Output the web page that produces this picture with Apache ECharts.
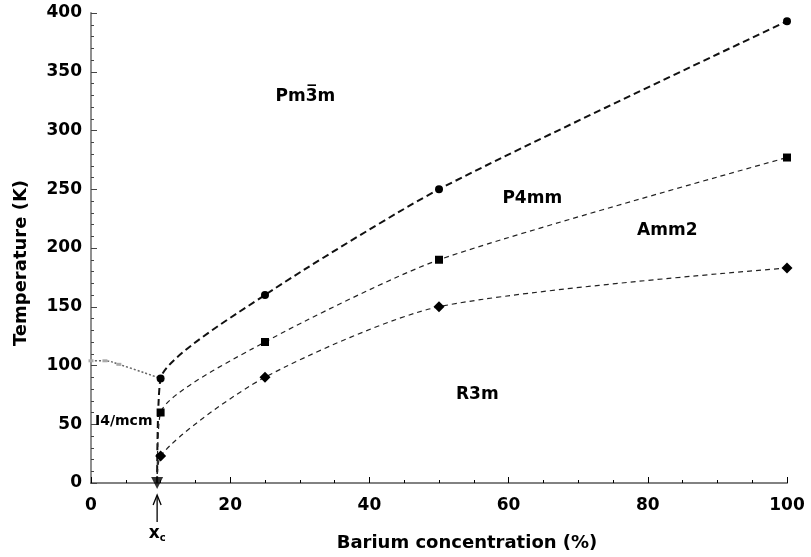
<!DOCTYPE html>
<html><head><meta charset="utf-8">
<script src="https://cdn.jsdelivr.net/npm/echarts@6/dist/echarts.min.js"></script>
<style>html,body{margin:0;padding:0;background:#fff}#c{width:811px;height:557px}</style>
</head><body><div id="c"></div>
<script>
// ---- data ----
const concentration = [10, 25, 50, 100];          // Barium concentration (%)
const cubicToTetragonal = [89, 160, 250, 393];     // Pm-3m -> P4mm (K), circles
const tetragonalToOrtho = [60, 120, 190, 277];     // P4mm -> Amm2 (K), squares
const orthoToRhombo = [23, 90, 150, 183];          // Amm2 -> R3m (K), diamonds
const xcConcentration = 9.5;                       // critical concentration x_c
const lowConcentration = [0, 2, 4];                // SrTiO3-side points
const lowTemperature = [104, 104, 101];            // I4/mcm transition (K)
const xTickValues = [0, 20, 40, 60, 80, 100];
const yTickValues = [0, 50, 100, 150, 200, 250, 300, 350, 400];
const phaseLabels = ['Pm3\u0305m', 'P4mm', 'Amm2', 'R3m', 'I4/mcm'];

const FONT = 'DejaVu Sans';
const chart = echarts.init(document.getElementById('c'), null, {renderer: 'canvas'});

function branch(vals) {
  const d = [{value: [xcConcentration, 0], symbol: 'none'}];
  concentration.forEach((c, i) => d.push([c, vals[i]]));
  return d;
}
const lowData = lowConcentration.map((c, i) => [c, lowTemperature[i]]);
lowData.push({value: [concentration[0], cubicToTetragonal[0]], symbol: 'none'});

const axisLabel = {color: '#000', fontFamily: FONT, fontWeight: 'bold', fontSize: 17};
chart.setOption({
  animation: false,
  backgroundColor: '#fff',
  grid: {left: 91, right: 24, top: 13, bottom: 74},
  xAxis: [{
    type: 'value', min: 0, max: 100, interval: 20,
    axisLine: {lineStyle: {color: '#000', width: 1.5}},
    axisTick: {inside: true, length: 6, lineStyle: {color: '#000'}},
    minorTick: {show: true, splitNumber: 4, length: 3, lineStyle: {color: '#000'}},
    splitLine: {show: false},
    axisLabel: Object.assign({margin: 14, formatter: v => xTickValues.includes(v) ? String(v) : ''}, axisLabel)
  }, {
    type: 'value', position: 'top', min: 0, max: 100,
    axisLine: {show: true, lineStyle: {color: '#999', width: 1.5}},
    axisTick: {show: false}, axisLabel: {show: false}, splitLine: {show: false}
  }],
  yAxis: [{
    type: 'value', min: 0, max: 400, interval: 50,
    axisLine: {show: true, lineStyle: {color: '#444', width: 1.5}},
    axisTick: {inside: true, length: 6, lineStyle: {color: '#444'}},
    minorTick: {show: true, splitNumber: 5, length: 3, lineStyle: {color: '#444'}},
    splitLine: {show: false},
    axisLabel: Object.assign({margin: 9, formatter: v => yTickValues.includes(v) ? String(v) : ''}, axisLabel)
  }, {
    type: 'value', position: 'right', min: 0, max: 400,
    axisLine: {show: true, lineStyle: {color: '#999', width: 1.5}},
    axisTick: {show: false}, axisLabel: {show: false}, splitLine: {show: false}
  }],
  series: [
    {type: 'line', name: 'cubic', data: branch(cubicToTetragonal), smooth: 0.2,
     symbol: 'circle', symbolSize: 8, itemStyle: {color: '#000'},
     lineStyle: {color: '#111', width: 2, type: [7, 4]}},
    {type: 'line', name: 'tetragonal', data: branch(tetragonalToOrtho), smooth: 0.22,
     symbol: 'rect', symbolSize: 8, itemStyle: {color: '#000'},
     lineStyle: {color: '#222', width: 1.2, type: [5, 4]}},
    {type: 'line', name: 'ortho', data: branch(orthoToRhombo), smooth: 0.25,
     symbol: 'diamond', symbolSize: 11, itemStyle: {color: '#000'},
     lineStyle: {color: '#222', width: 1.2, type: [5, 4]}},
    {type: 'line', name: 'low', data: lowData, smooth: 0.4, clip: false,
     symbol: 'rect', symbolSize: [5, 3], itemStyle: {color: '#aaa'},
     lineStyle: {color: '#666', width: 1.5, type: [2, 2]}},
    {type: 'scatter', name: 'xc', data: [[xcConcentration, 0]], clip: false, z: 10,
     symbol: 'triangle', symbolRotate: 180, symbolSize: 12, itemStyle: {color: '#000'}}
  ]
});

const P = (x, y) => chart.convertToPixel({xAxisIndex: 0, yAxisIndex: 0}, [x, y]);
const labelSpots = [[30.8, 329, 17], [63.4, 241.7, 17], [82.8, 215, 17], [55.5, 75, 17], [4.7, 52.8, 14]];
const graphics = phaseLabels.map((t, i) => {
  const p = P(labelSpots[i][0], labelSpots[i][1]);
  return {type: 'text', x: p[0], y: p[1], z: 20,
    style: {text: t, fill: '#000', font: 'bold ' + labelSpots[i][2] + 'px "' + FONT + '"', align: 'center', verticalAlign: 'middle'}};
});
const base = P(xcConcentration, 0);
graphics.push({type: 'polyline', z: 20, shape: {points: [[base[0], base[1] + 39], [base[0], base[1] + 13]]}, style: {stroke: '#000', lineWidth: 1.3}});
graphics.push({type: 'polyline', z: 20, shape: {points: [[base[0] - 4, base[1] + 22], [base[0], base[1] + 12], [base[0] + 4, base[1] + 22]]}, style: {stroke: '#000', lineWidth: 1.3, fill: null}});
graphics.push({type: 'text', x: base[0], y: base[1] + 51, z: 20,
  style: {text: '{a|x}{b|c}', align: 'center', verticalAlign: 'middle',
    rich: {a: {font: 'bold 17px "' + FONT + '"', fill: '#000'}, b: {font: 'bold 10px "' + FONT + '"', fill: '#000', padding: [8, 0, 0, 0]}}}});
graphics.push({type: 'text', x: 467, y: 543, style: {text: 'Barium concentration (%)', fill: '#000', font: 'bold 18px "' + FONT + '"', align: 'center', verticalAlign: 'middle'}});
graphics.push({type: 'text', x: 21, y: 263, rotation: Math.PI / 2, style: {text: 'Temperature (K)', fill: '#000', font: 'bold 18px "' + FONT + '"', align: 'center', verticalAlign: 'middle'}});
chart.setOption({graphic: graphics});
</script></body></html>
